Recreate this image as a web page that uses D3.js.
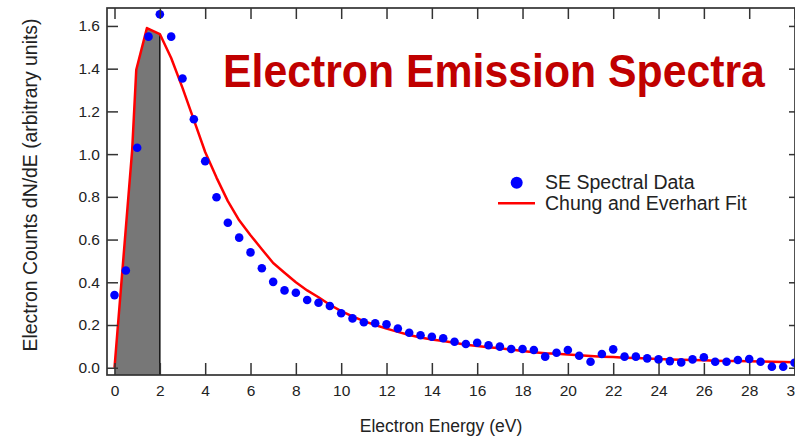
<!DOCTYPE html>
<html>
<head>
<meta charset="utf-8">
<script src="https://cdn.jsdelivr.net/npm/d3@7"></script>
<style>
  html, body { margin: 0; padding: 0; background: #fff; }
  svg { display: block; font-family: "Liberation Sans", Arial, sans-serif; }
</style>
</head>
<body>
<svg id="chart" width="795" height="437"></svg>
<script>
// Measured secondary-electron spectrum, sampled every 0.5 eV
const energies = [0,0.5,1,1.5,2,2.5,3,3.5,4,4.5,5,5.5,6,6.5,7,7.5,8,8.5,9,9.5,
  10,10.5,11,11.5,12,12.5,13,13.5,14,14.5,15,15.5,16,16.5,17,17.5,18,18.5,19,19.5,
  20,20.5,21,21.5,22,22.5,23,23.5,24,24.5,25,25.5,26,26.5,27,27.5,28,28.5,29,29.5,30];
const counts = [0.34,0.455,1.03,1.55,1.655,1.55,1.354,1.163,0.967,0.798,0.679,0.609,0.54,0.466,0.402,0.362,0.351,0.317,0.304,0.289,
  0.255,0.231,0.213,0.208,0.203,0.184,0.164,0.152,0.145,0.138,0.122,0.111,0.117,0.105,0.099,0.088,0.088,0.083,0.052,0.07,
  0.083,0.056,0.028,0.064,0.086,0.052,0.052,0.044,0.039,0.031,0.025,0.039,0.049,0.028,0.028,0.036,0.041,0.028,0.005,0.005,0.023];

// Chung and Everhart fit curve
const fitEnergies = [0,0.78,0.96,1.43,2,2.5,3,3.5,4,4.5,5,5.5,6,6.5,7,7.5,8,8.5,9,9.5,
  10,10.5,11,11.5,12,12.5,13,13.5,14,14.5,15,15.5,16,16.5,17,17.5,18,18.5,19,19.5,
  20,20.5,21,21.5,22,22.5,23,23.5,24,24.5,25,25.5,26,26.5,27,27.5,28,28.5,29,29.5,30];
const fitCounts = [0,1.02,1.395,1.59,1.562,1.45,1.31,1.16,1.01,0.89,0.78,0.69,0.62,0.555,0.49,0.445,0.40,0.362,0.33,0.295,
  0.265,0.24,0.218,0.2,0.183,0.168,0.153,0.142,0.132,0.125,0.117,0.108,0.102,0.096,0.091,0.085,0.078,0.073,0.068,0.065,
  0.062,0.058,0.055,0.052,0.05,0.047,0.045,0.043,0.041,0.039,0.037,0.036,0.035,0.033,0.032,0.031,0.03,0.029,0.028,0.027,0.026];

// Shaded band under the fit (low-energy region)
const shadeRange = [0, 2];

const xTicks = [0,2,4,6,8,10,12,14,16,18,20,22,24,26,28,30];
const yTicks = [0,0.2,0.4,0.6,0.8,1.0,1.2,1.4,1.6];

const titleText = "Electron Emission Spectra";
const xLabel = "Electron Energy (eV)";
const yLabel = "Electron Counts dN/dE (arbitrary units)";
const legendLabels = ["SE Spectral Data", "Chung and Everhart Fit"];

const svg = d3.select("#chart");
const L = 107, R = 795, T = 8, B = 375;

const x = d3.scaleLinear().domain([-0.331, 30.02]).range([L, R]);
const y = d3.scaleLinear().domain([-0.034, 1.684]).range([B, T]);

const fit = fitEnergies.map((e, i) => ({ e, v: fitCounts[i] }));
const pts = energies.map((e, i) => ({ e, v: counts[i] }));

svg.append("defs").append("clipPath").attr("id", "plotclip")
  .append("rect").attr("x", L).attr("y", T).attr("width", R - L).attr("height", B - T);

const plot = svg.append("g").attr("clip-path", "url(#plotclip)");

// grey shaded integral region 0-2 eV
const shade = fit.filter(d => d.e >= shadeRange[0] && d.e <= shadeRange[1]);
plot.append("path")
  .datum(shade)
  .attr("fill", "#777777")
  .attr("d", d3.area().x(d => x(d.e)).y0(B).y1(d => y(d.v)));
const endVal = shade[shade.length - 1].v;
plot.append("line")
  .attr("x1", x(shadeRange[1])).attr("x2", x(shadeRange[1]))
  .attr("y1", y(endVal)).attr("y2", B)
  .attr("stroke", "#111").attr("stroke-width", 1.5);

// fit line
plot.append("path")
  .datum(fit)
  .attr("fill", "none")
  .attr("stroke", "#ff0000")
  .attr("stroke-width", 2.5)
  .attr("stroke-linejoin", "round")
  .attr("d", d3.line().x(d => x(d.e)).y(d => y(d.v)));

// data markers
svg.append("g").selectAll("circle")
  .data(pts).join("circle")
  .attr("cx", d => x(d.e)).attr("cy", d => y(d.v))
  .attr("r", 4.3)
  .attr("fill", "#0000ff");

// axes: ticks point into the plot on all four sides
const axisColor = "#333";
function styleAxis(g) {
  g.select(".domain").remove();
  g.selectAll(".tick line").attr("stroke", axisColor).attr("stroke-width", 1.5);
  g.selectAll(".tick text").attr("fill", "#222").attr("font-size", "15.5px")
    .attr("font-family", "'Liberation Sans', Arial, sans-serif");
}
svg.append("g").attr("transform", `translate(0,${B})`)
  .call(d3.axisBottom(x).tickValues(xTicks).tickSize(-12).tickPadding(10).tickFormat(d3.format("d")))
  .call(styleAxis);
svg.append("g").attr("transform", `translate(0,${T})`)
  .call(d3.axisTop(x).tickValues(xTicks).tickSize(-11).tickFormat(""))
  .call(styleAxis);
svg.append("g").attr("transform", `translate(${L},0)`)
  .call(d3.axisLeft(y).tickValues(yTicks).tickSize(-11).tickPadding(7).tickFormat(d3.format(".1f")))
  .call(styleAxis);
svg.append("g").attr("transform", `translate(${R},0)`)
  .call(d3.axisRight(y).tickValues(yTicks).tickSize(-6).tickFormat(""))
  .call(styleAxis);

// frame
svg.append("rect")
  .attr("x", L).attr("y", T).attr("width", R - L).attr("height", B - T)
  .attr("fill", "none").attr("stroke", axisColor).attr("stroke-width", 1.7);

// title
svg.append("text")
  .attr("transform", "translate(223,87) scale(0.93,1)")
  .attr("font-size", "46px").attr("font-weight", "bold")
  .attr("fill", "#c00000")
  .text(titleText);

// axis labels
svg.append("text")
  .attr("x", 441).attr("y", 432)
  .attr("text-anchor", "middle")
  .attr("font-size", "17.5px").attr("fill", "#222")
  .text(xLabel);
svg.append("text")
  .attr("transform", "translate(36.5,185) rotate(-90)")
  .attr("text-anchor", "middle")
  .attr("font-size", "19.4px").attr("fill", "#222")
  .text(yLabel);

// legend
const lg = svg.append("g");
lg.append("circle").attr("cx", 516.7).attr("cy", 182.7).attr("r", 6).attr("fill", "#0000ff");
lg.append("line").attr("x1", 498).attr("x2", 535).attr("y1", 203.3).attr("y2", 203.3)
  .attr("stroke", "#ff0000").attr("stroke-width", 2.5);
lg.selectAll("text").data(legendLabels).join("text")
  .attr("x", 545).attr("y", (d, i) => 189 + i * 21)
  .attr("font-size", "19.5px").attr("fill", "#222")
  .text(d => d);
</script>
</body>
</html>
